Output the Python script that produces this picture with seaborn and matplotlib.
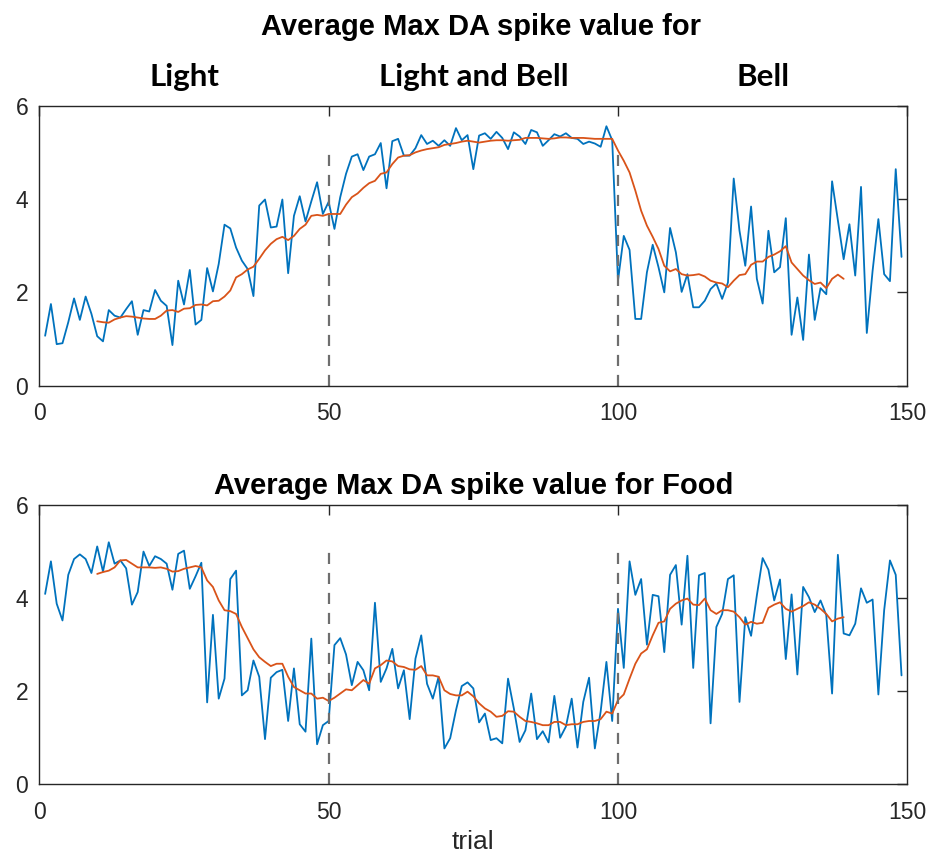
import numpy as np
import pandas as pd
import matplotlib
matplotlib.use("Agg")
import matplotlib.pyplot as plt
import matplotlib.transforms as mtransforms
import seaborn as sns

# ---- data -------------------------------------------------------------
trials = list(range(1, 150))
avg_trials = list(range(10, 140))

cue_spike = [
    1.07, 1.75, 0.89, 0.91, 1.36, 1.87, 1.41, 1.91, 1.54, 1.06,
    0.95, 1.62, 1.50, 1.46, 1.64, 1.81, 1.09, 1.62, 1.59, 2.05,
    1.82, 1.71, 0.87, 2.25, 1.74, 2.48, 1.31, 1.41, 2.52, 2.02,
    2.61, 3.45, 3.37, 2.96, 2.68, 2.50, 1.92, 3.86, 3.99, 3.39,
    3.41, 3.99, 2.41, 3.64, 4.06, 3.52, 3.95, 4.36, 3.68, 3.94,
    3.36, 4.04, 4.54, 4.91, 4.96, 4.62, 4.91, 4.96, 5.20, 4.23,
    5.24, 5.29, 4.93, 4.93, 5.09, 5.37, 5.18, 5.25, 5.14, 5.26,
    5.14, 5.52, 5.26, 5.37, 4.64, 5.36, 5.41, 5.29, 5.44, 5.31,
    5.07, 5.43, 5.34, 5.18, 5.48, 5.43, 5.14, 5.26, 5.39, 5.34,
    5.41, 5.31, 5.29, 5.18, 5.23, 5.19, 5.12, 5.56, 5.26, 2.25,
    3.21, 2.91, 1.43, 1.43, 2.43, 3.02, 2.54, 2.00, 3.38, 2.86,
    2.01, 2.39, 1.68, 1.68, 1.82, 2.07, 2.19, 1.86, 2.21, 4.44,
    3.32, 2.57, 3.84, 2.29, 1.76, 3.32, 2.43, 2.54, 3.59, 1.09,
    1.89, 0.98, 2.81, 1.41, 2.09, 1.96, 4.38, 3.54, 2.71, 3.46,
    2.36, 4.26, 1.13, 2.46, 3.57, 2.39, 2.24, 4.64, 2.76,
]

cue_avg = [
    1.38, 1.36, 1.35, 1.42, 1.46, 1.49, 1.48, 1.46, 1.44, 1.43,
    1.43, 1.50, 1.61, 1.62, 1.58, 1.65, 1.66, 1.73, 1.74, 1.72,
    1.81, 1.82, 1.91, 2.04, 2.32, 2.39, 2.49, 2.55, 2.72, 2.90,
    3.04, 3.14, 3.19, 3.12, 3.21, 3.36, 3.45, 3.64, 3.66, 3.64,
    3.68, 3.68, 3.68, 3.88, 4.04, 4.12, 4.24, 4.34, 4.39, 4.54,
    4.57, 4.75, 4.89, 4.93, 4.94, 5.00, 5.04, 5.07, 5.09, 5.11,
    5.16, 5.18, 5.20, 5.23, 5.25, 5.23, 5.21, 5.23, 5.25, 5.26,
    5.26, 5.25, 5.26, 5.27, 5.31, 5.31, 5.31, 5.30, 5.29, 5.30,
    5.32, 5.32, 5.31, 5.31, 5.31, 5.30, 5.29, 5.29, 5.29, 5.29,
    5.04, 4.82, 4.57, 4.18, 3.75, 3.43, 3.19, 2.93, 2.57, 2.45,
    2.50, 2.39, 2.36, 2.37, 2.39, 2.34, 2.25, 2.21, 2.19, 2.11,
    2.25, 2.37, 2.39, 2.59, 2.66, 2.66, 2.76, 2.81, 2.88, 2.99,
    2.64, 2.50, 2.36, 2.26, 2.18, 2.21, 2.09, 2.29, 2.38, 2.29,
]

food_spike = [
    4.09, 4.79, 3.88, 3.52, 4.50, 4.84, 4.94, 4.84, 4.54, 5.11,
    4.57, 5.20, 4.74, 4.81, 4.64, 3.86, 4.13, 5.00, 4.69, 4.90,
    4.84, 4.74, 4.18, 4.95, 5.02, 4.20, 4.47, 4.76, 1.76, 3.64,
    1.84, 2.27, 4.41, 4.59, 1.91, 2.02, 2.66, 2.31, 0.97, 2.29,
    2.41, 2.46, 1.36, 2.49, 1.29, 1.13, 3.13, 0.86, 1.27, 1.36,
    2.99, 3.14, 2.79, 2.13, 2.63, 2.45, 2.02, 3.90, 2.20, 2.49,
    2.91, 2.06, 2.45, 1.40, 2.70, 3.20, 2.16, 1.84, 2.31, 0.77,
    0.99, 1.59, 2.11, 2.19, 2.06, 1.33, 1.52, 0.95, 0.99, 0.88,
    2.27, 1.63, 0.91, 1.16, 1.95, 0.97, 1.14, 0.90, 1.90, 1.00,
    1.24, 1.84, 0.79, 1.77, 2.29, 0.77, 1.56, 2.63, 1.36, 3.77,
    2.50, 4.79, 4.07, 4.41, 3.00, 4.07, 4.04, 2.84, 4.50, 4.71,
    3.43, 4.91, 2.50, 4.49, 4.54, 1.31, 3.38, 3.66, 4.41, 4.49,
    1.77, 3.59, 3.19, 4.06, 4.86, 4.61, 3.95, 4.40, 2.69, 4.08,
    2.36, 4.24, 4.02, 3.70, 3.95, 3.63, 1.95, 4.93, 3.24, 3.20,
    3.45, 4.21, 3.90, 3.97, 1.93, 3.74, 4.81, 4.50, 2.34,
]

food_avg = [
    4.52, 4.56, 4.59, 4.66, 4.81, 4.82, 4.74, 4.66, 4.66, 4.66,
    4.65, 4.66, 4.63, 4.57, 4.58, 4.63, 4.66, 4.69, 4.66, 4.38,
    4.24, 3.95, 3.74, 3.72, 3.66, 3.38, 3.14, 2.90, 2.73, 2.63,
    2.54, 2.59, 2.59, 2.31, 2.09, 2.02, 1.95, 1.95, 1.84, 1.86,
    1.79, 1.86, 1.95, 2.04, 2.02, 2.13, 2.24, 2.16, 2.49, 2.56,
    2.66, 2.64, 2.54, 2.52, 2.47, 2.46, 2.54, 2.34, 2.34, 2.31,
    2.02, 1.94, 1.91, 1.91, 1.99, 1.89, 1.74, 1.63, 1.56, 1.45,
    1.47, 1.57, 1.56, 1.45, 1.36, 1.34, 1.31, 1.27, 1.27, 1.34,
    1.34, 1.27, 1.29, 1.29, 1.34, 1.36, 1.36, 1.40, 1.56, 1.52,
    1.81, 1.93, 2.27, 2.59, 2.81, 2.90, 3.20, 3.47, 3.50, 3.77,
    3.88, 3.95, 3.99, 3.86, 3.85, 3.99, 3.74, 3.66, 3.74, 3.74,
    3.71, 3.59, 3.43, 3.49, 3.45, 3.47, 3.79, 3.86, 3.91, 3.77,
    3.71, 3.77, 3.83, 3.91, 3.86, 3.77, 3.66, 3.50, 3.56, 3.59,
]

phase_bounds = [50, 100]
phase_names = ["Light", "Light and Bell", "Bell"]
phase_centers = [25, 75, 125]
x_ticks = [0, 50, 100, 150]
y_ticks = [0, 2, 4, 6]

# ---- style ------------------------------------------------------------
sns.set_theme(style="white")
plt.rcParams["font.family"] = ["Liberation Sans", "DejaVu Sans"]

BLUE = "#0072BD"
ORANGE = "#D95319"
AXIS = "#262626"

fig = plt.figure(figsize=(9.3, 8.63), dpi=100)
ax_top = fig.add_axes([0.0423, 0.5531, 0.9333, 0.3244])
ax_bot = fig.add_axes([0.0423, 0.0912, 0.9333, 0.3236])


def draw_panel(ax, spike, avg):
    raw = pd.DataFrame({"trial": trials, "value": spike})
    smooth = pd.DataFrame({"trial": avg_trials, "value": avg})
    sns.lineplot(data=raw, x="trial", y="value", ax=ax, color=BLUE,
                 linewidth=1.3, estimator=None, sort=False)
    sns.lineplot(data=smooth, x="trial", y="value", ax=ax, color=ORANGE,
                 linewidth=1.3, estimator=None, sort=False)
    ax.vlines(phase_bounds, 0, 5, colors="#6e6e6e", linewidth=1.6,
              linestyles=(0, (5, 4)))
    ax.set_xlim(0, 150)
    ax.set_ylim(0, 6)
    ax.set_xticks(x_ticks)
    ax.set_yticks(y_ticks)
    ax.set_xlabel("")
    ax.set_ylabel("")
    for sp in ax.spines.values():
        sp.set_visible(True)
        sp.set_color(AXIS)
        sp.set_linewidth(1.0)
    ax.tick_params(direction="in", top=True, right=True, length=7,
                   width=1.0, color=AXIS, labelcolor=AXIS, labelsize=16.5)
    ax.tick_params(axis="x", pad=12)
    ax.tick_params(axis="y", pad=8)
    ax.grid(False)


draw_panel(ax_top, cue_spike, cue_avg)
draw_panel(ax_bot, food_spike, food_avg)

ax_bot.set_xlabel("trial", fontsize=19, color=AXIS, labelpad=4)

# titles
fig.text(0.517, 0.969, "Average Max DA spike value for", ha="center",
         va="center", fontsize=21, fontweight="bold", color="black")
blend = mtransforms.blended_transform_factory(ax_top.transData, fig.transFigure)
for name, xc in zip(phase_names, phase_centers):
    ax_top.text(xc, 0.911, name, transform=blend, ha="center", va="center",
                fontsize=22.5, fontweight="bold", color="black",
                family=["Lato", "DejaVu Sans"])
fig.text(0.509, 0.437, "Average Max DA spike value for Food", ha="center",
         va="center", fontsize=21, fontweight="bold", color="black")

fig.savefig("out.png", dpi=100, facecolor="white")
